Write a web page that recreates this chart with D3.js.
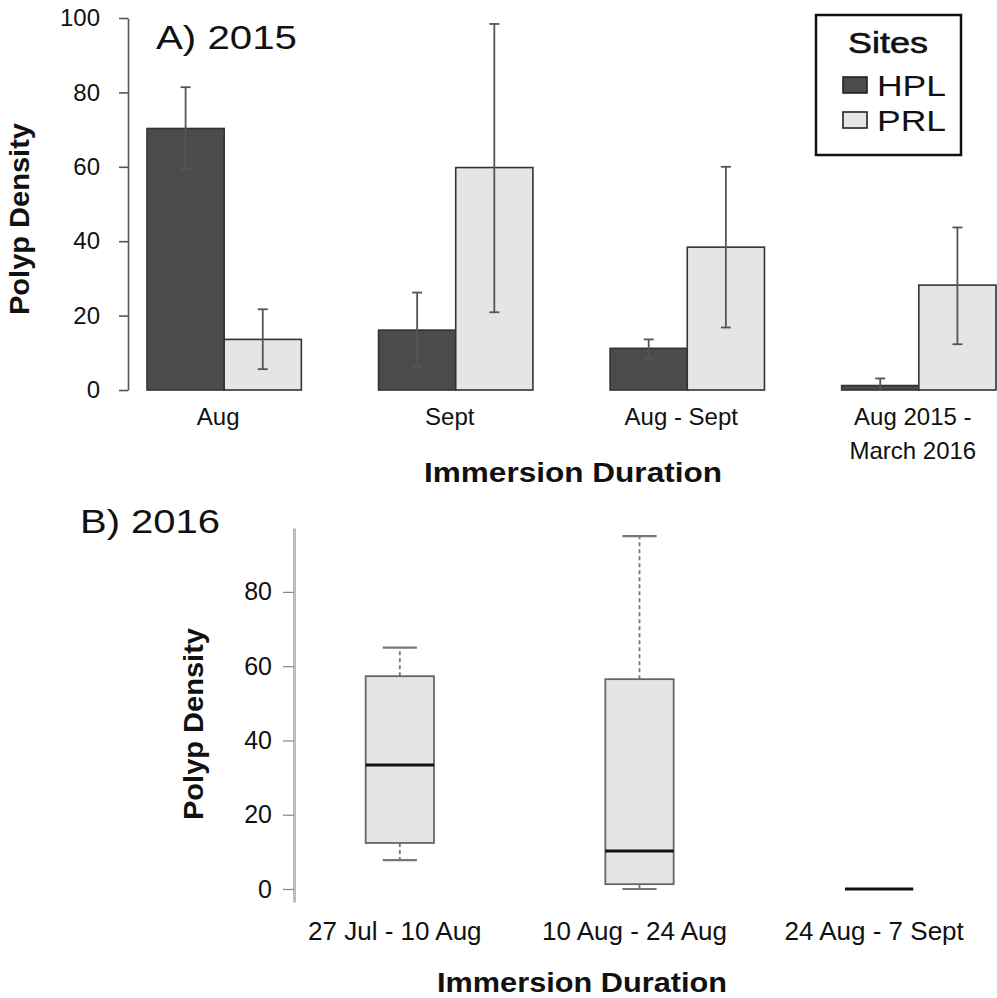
<!DOCTYPE html>
<html>
<head>
<meta charset="utf-8">
<script src="https://cdn.jsdelivr.net/npm/d3@7"></script>
<style>
  body { margin: 0; background: #fff; }
  svg { display: block; font-family: "Liberation Sans", Arial, Helvetica, sans-serif; }
</style>
</head>
<body>
<svg id="chart" width="997" height="998"></svg>
<script>
// ---- panel A data (2015), mean +/- error
let durations2015 = ['Aug', 'Sept', 'Aug - Sept', 'Aug 2015 -|March 2016'];
let sites = ['HPL', 'PRL'];
let hplMean = [70.3, 16.1, 11.2, 1.2];
let hplLow  = [59.3, 6.3, 8.4, 0];
let hplHigh = [81.4, 26.2, 13.6, 3.1];
let prlMean = [13.6, 59.8, 38.4, 28.2];
let prlLow  = [5.6, 20.9, 16.8, 12.3];
let prlHigh = [21.7, 98.4, 60.0, 43.7];
let ticksA = [0, 20, 40, 60, 80, 100];

// ---- panel B data (2016), box plot stats
let durations2016 = ['27 Jul - 10 Aug', '10 Aug - 24 Aug', '24 Aug - 7 Sept'];
let whiskLo = [7.8, 0, 0];
let q1      = [12.4, 1.3, 0];
let median  = [33.4, 10.2, 0];
let q3      = [57.3, 56.5, 0];
let whiskHi = [65.0, 95.0, 0];
let ticksB = [0, 20, 40, 60, 80];

let svg = d3.select('#chart');
let fillColor = {HPL: '#4b4b4b', PRL: '#e5e5e5'};

// =============== Panel A ===============
let yA = d3.scaleLinear().domain([0, 100]).range([390, 18]);
let xA = d3.scaleBand().domain(durations2015).range([147, 996]).paddingInner(1/3).paddingOuter(0);
let xSub = d3.scaleBand().domain(sites).range([0, xA.bandwidth()]);

let rowsA = [];
durations2015.forEach(function(d, i) {
  rowsA.push({dur: d, site: 'HPL', mean: hplMean[i], lo: hplLow[i], hi: hplHigh[i]});
  rowsA.push({dur: d, site: 'PRL', mean: prlMean[i], lo: prlLow[i], hi: prlHigh[i]});
});

let gA = svg.append('g');

gA.append('g')
  .attr('transform', 'translate(128,0)')
  .call(d3.axisLeft(yA).tickValues(ticksA).tickSize(9).tickSizeOuter(0).tickPadding(19))
  .call(function(g) {
    g.select('.domain').attr('stroke', '#555').attr('stroke-width', 1.6);
    g.selectAll('.tick line').attr('stroke', '#555').attr('stroke-width', 1.6);
    g.selectAll('.tick text').attr('font-size', 24).attr('fill', '#111')
      .attr('font-family', '"Liberation Sans", Arial, sans-serif');
  });

gA.selectAll('rect.bar')
  .data(rowsA)
  .enter().append('rect')
  .attr('class', 'bar')
  .attr('x', function(d) { return xA(d.dur) + xSub(d.site); })
  .attr('y', function(d) { return yA(d.mean); })
  .attr('width', xSub.bandwidth())
  .attr('height', function(d) { return yA(0) - yA(d.mean); })
  .attr('fill', function(d) { return fillColor[d.site]; })
  .attr('stroke', '#333')
  .attr('stroke-width', 1.6);

let err = gA.selectAll('g.err')
  .data(rowsA)
  .enter().append('g')
  .attr('class', 'err')
  .attr('transform', function(d) { return 'translate(' + (xA(d.dur) + xSub(d.site) + xSub.bandwidth() / 2) + ',0)'; })
  .attr('stroke', '#555')
  .attr('stroke-width', 1.8);
err.append('line')
  .attr('y1', function(d) { return yA(d.lo); })
  .attr('y2', function(d) { return yA(d.hi); });
err.append('line')
  .attr('x1', -5).attr('x2', 5)
  .attr('y1', function(d) { return yA(d.hi); })
  .attr('y2', function(d) { return yA(d.hi); });
err.filter(function(d) { return d.lo > 0; }).append('line')
  .attr('x1', -5).attr('x2', 5)
  .attr('y1', function(d) { return yA(d.lo); })
  .attr('y2', function(d) { return yA(d.lo); });

// x labels
gA.selectAll('text.xlab')
  .data(durations2015)
  .enter().append('text')
  .attr('class', 'xlab')
  .attr('text-anchor', 'middle')
  .attr('font-size', 24)
  .attr('fill', '#111')
  .attr('y', 425)
  .each(function(d) {
    let t = d3.select(this);
    let cx = xA(d) + xA.bandwidth() / 2 - 6;
    d.split('|').forEach(function(line, k) {
      t.append('tspan').attr('x', cx).attr('dy', k === 0 ? 0 : 34).text(line);
    });
  });

gA.append('text')
  .attr('x', 573).attr('y', 482)
  .attr('text-anchor', 'middle')
  .attr('font-size', 27).attr('font-weight', 'bold').attr('fill', '#111')
  .attr('textLength', 298).attr('lengthAdjust', 'spacingAndGlyphs')
  .text('Immersion Duration');

gA.append('text')
  .attr('transform', 'translate(29,219) rotate(-90)')
  .attr('text-anchor', 'middle')
  .attr('font-size', 28).attr('font-weight', 'bold').attr('fill', '#111')
  .attr('textLength', 192).attr('lengthAdjust', 'spacingAndGlyphs')
  .text('Polyp Density');

gA.append('text')
  .attr('x', 156).attr('y', 49)
  .attr('font-size', 33).attr('fill', '#111')
  .attr('textLength', 141).attr('lengthAdjust', 'spacingAndGlyphs')
  .text('A) 2015');

// legend
let leg = gA.append('g');
leg.append('rect')
  .attr('x', 816).attr('y', 15).attr('width', 145).attr('height', 140)
  .attr('fill', '#fff').attr('stroke', '#111').attr('stroke-width', 2.5);
leg.append('text')
  .attr('x', 848).attr('y', 53)
  .attr('font-size', 29).attr('fill', '#111')
  .attr('stroke', '#111').attr('stroke-width', 0.6)
  .attr('textLength', 80).attr('lengthAdjust', 'spacingAndGlyphs')
  .text('Sites');
let legItem = leg.selectAll('g.item')
  .data(sites)
  .enter().append('g')
  .attr('class', 'item')
  .attr('transform', function(d, i) { return 'translate(843,' + (77 + i * 35) + ')'; });
legItem.append('rect')
  .attr('width', 24).attr('height', 16)
  .attr('fill', function(d) { return fillColor[d]; })
  .attr('stroke', '#222').attr('stroke-width', 1.6);
legItem.append('text')
  .attr('x', 34).attr('y', 19)
  .attr('font-size', 30).attr('fill', '#111')
  .attr('textLength', 69).attr('lengthAdjust', 'spacingAndGlyphs')
  .text(function(d) { return d; });

// =============== Panel B ===============
let yB = d3.scaleLinear().domain([-3.5, 97.2]).range([902, 528]);
let xB = d3.scaleBand().domain(durations2016).range([280, 999]).padding(0);
let boxW = xB.bandwidth() * 0.285;

let rowsB = durations2016.map(function(d, i) {
  return {dur: d, lo: whiskLo[i], q1: q1[i], med: median[i], q3: q3[i], hi: whiskHi[i]};
});

let gB = svg.append('g');

gB.append('g')
  .attr('transform', 'translate(294,0)')
  .call(d3.axisLeft(yB).tickValues(ticksB).tickSize(11).tickSizeOuter(0).tickPadding(11))
  .call(function(g) {
    g.select('.domain').attr('stroke', '#bbb').attr('stroke-width', 3);
    g.selectAll('.tick line').attr('stroke', '#888').attr('stroke-width', 1.2);
    g.selectAll('.tick text').attr('font-size', 25).attr('fill', '#111')
      .attr('font-family', '"Liberation Sans", Arial, sans-serif');
  });

let box = gB.selectAll('g.box')
  .data(rowsB)
  .enter().append('g')
  .attr('class', 'box')
  .attr('transform', function(d) { return 'translate(' + (xB(d.dur) + xB.bandwidth() / 2) + ',0)'; });

// whiskers
box.append('line')
  .attr('y1', function(d) { return yB(d.q3); })
  .attr('y2', function(d) { return yB(d.hi); })
  .attr('stroke', '#777').attr('stroke-width', 1.8).attr('stroke-dasharray', '4,3');
box.append('line')
  .attr('y1', function(d) { return yB(d.q1); })
  .attr('y2', function(d) { return yB(d.lo); })
  .attr('stroke', '#777').attr('stroke-width', 1.8).attr('stroke-dasharray', '4,3');
box.append('line')
  .attr('x1', -boxW / 4).attr('x2', boxW / 4)
  .attr('y1', function(d) { return yB(d.hi); })
  .attr('y2', function(d) { return yB(d.hi); })
  .attr('stroke', '#777').attr('stroke-width', 2.2);
box.append('line')
  .attr('x1', -boxW / 4).attr('x2', boxW / 4)
  .attr('y1', function(d) { return yB(d.lo); })
  .attr('y2', function(d) { return yB(d.lo); })
  .attr('stroke', '#777').attr('stroke-width', 2.2);
box.append('rect')
  .attr('x', -boxW / 2)
  .attr('width', boxW)
  .attr('y', function(d) { return yB(d.q3); })
  .attr('height', function(d) { return yB(d.q1) - yB(d.q3); })
  .attr('fill', '#e5e5e5').attr('stroke', '#666').attr('stroke-width', 1.8);
box.append('line')
  .attr('x1', -boxW / 2).attr('x2', boxW / 2)
  .attr('y1', function(d) { return yB(d.med); })
  .attr('y2', function(d) { return yB(d.med); })
  .attr('stroke', '#111').attr('stroke-width', 3);

gB.selectAll('text.xlab')
  .data(durations2016)
  .enter().append('text')
  .attr('class', 'xlab')
  .attr('x', function(d) { return xB(d) + xB.bandwidth() / 2 - 5; })
  .attr('y', 940)
  .attr('text-anchor', 'middle')
  .attr('font-size', 26).attr('fill', '#111')
  .text(function(d) { return d; });

gB.append('text')
  .attr('x', 582).attr('y', 992)
  .attr('text-anchor', 'middle')
  .attr('font-size', 27).attr('font-weight', 'bold').attr('fill', '#111')
  .attr('textLength', 290).attr('lengthAdjust', 'spacingAndGlyphs')
  .text('Immersion Duration');

gB.append('text')
  .attr('transform', 'translate(203,724) rotate(-90)')
  .attr('text-anchor', 'middle')
  .attr('font-size', 28).attr('font-weight', 'bold').attr('fill', '#111')
  .attr('textLength', 192).attr('lengthAdjust', 'spacingAndGlyphs')
  .text('Polyp Density');

gB.append('text')
  .attr('x', 80).attr('y', 533)
  .attr('font-size', 34).attr('fill', '#111')
  .attr('textLength', 140).attr('lengthAdjust', 'spacingAndGlyphs')
  .text('B) 2016');
</script>
</body>
</html>
